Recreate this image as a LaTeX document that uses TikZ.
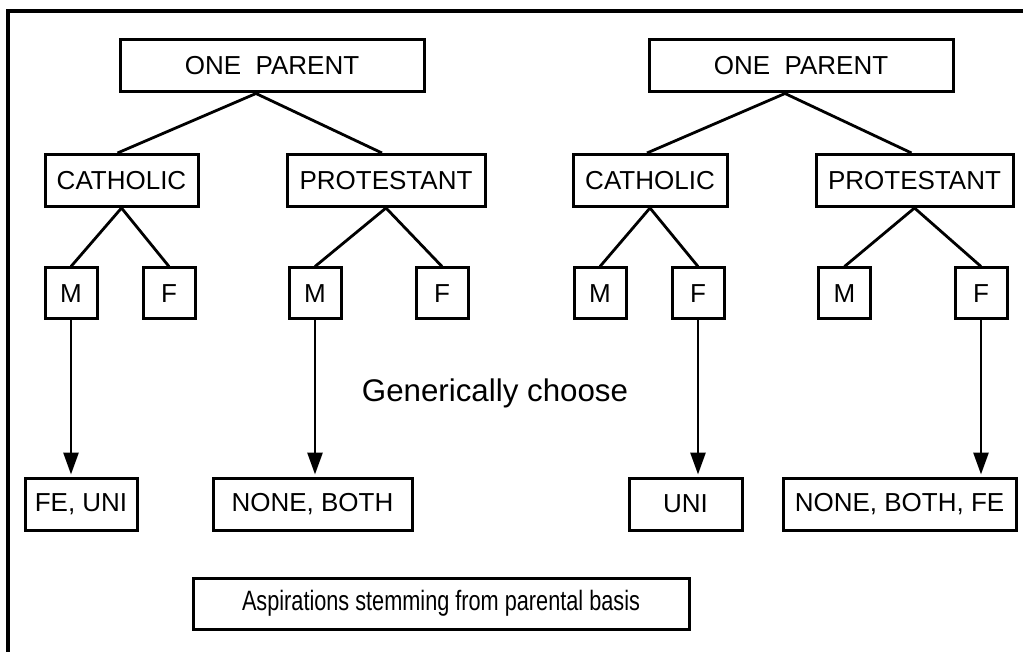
\documentclass[tikz,border=0pt]{standalone}
\usepackage{fontspec}
\setmainfont{Liberation Sans}
\usepackage{tikz}
\usetikzlibrary{calc}
\usetikzlibrary{arrows.meta}
\usetikzlibrary{positioning}

\tikzset{
  box/.style={rectangle, draw=black, line width=3pt, inner sep=0pt,
    minimum height=52pt, font=\fontsize{26}{30}\selectfont},
  small/.style={box, minimum width=52pt, minimum height=51pt},
  link/.style={draw=black, line width=2.8pt},
  pick/.style={link, -{Triangle[length=22pt,width=15pt]}, shorten >=2pt},
}

\begin{document}
\begin{tikzpicture}[x=1pt, y=-1pt]
\clip (0,0) rectangle (1023,652);
\draw [line width=3.2pt] (8,700) -- (8,11) -- (1100,11);

\node [box, minimum width=304pt] (P1) at (272, 66) {ONE~~PARENT};
\node [box, minimum width=304pt] (P2) at (801, 66) {ONE~~PARENT};

\node [box, minimum width=153pt] (C1) at (121.5, 180.5) {CATHOLIC};
\node [box, minimum width=198pt] (T1) at (386, 180.5) {PROTESTANT};
\node [box, minimum width=154pt] (C2) at (650, 180.5) {CATHOLIC};
\node [box, minimum width=197pt] (T2) at (914.5, 180.5) {PROTESTANT};

\node [small] (M1) at (71, 293.5) {M};
\node [small] (F1) at (169, 293.5) {F};
\node [small] (M2) at (315, 293.5) {M};
\node [small] (F2) at (442, 293.5) {F};
\node [small] (M3) at (600, 293.5) {M};
\node [small] (F3) at (698, 293.5) {F};
\node [small] (M4) at (844.5, 293.5) {M};
\node [small] (F4) at (981, 293.5) {F};

\node [box, minimum width=112pt] (R1) at (81, 504) {FE, UNI};
\node [box, minimum width=199pt] (R2) at (312.5, 504) {NONE, BOTH};
\node [box, minimum width=113pt] (R3) at (685.5, 504) {UNI};
\node [box, minimum width=233pt] (R4) at (899.5, 504) {NONE, BOTH, FE};

\node [font=\fontsize{31.3}{36}\selectfont] (G) at (495, 393) {Generically choose};
\node [box, minimum width=496pt, minimum height=51pt, font=\fontsize{28}{32}\selectfont]
  (A) at (441, 603.5) {\scalebox{0.775}[1]{Aspirations stemming from parental basis}};

\draw [link] ([xshift=-4pt]C1.north) -- ([xshift=-16pt]P1.south) -- ([xshift=-4pt]T1.north);
\draw [link] ([xshift=-3pt]C2.north) -- ([xshift=-16pt]P2.south) -- ([xshift=-3pt]T2.north);
\draw [link] (M1.north) -- (C1.south) -- (F1.north);
\draw [link] (M2.north) -- (T1.south) -- (F2.north);
\draw [link] (M3.north) -- (C2.south) -- (F3.north);
\draw [link] (M4.north) -- (T2.south) -- (F4.north);

\draw [pick] (M1.south) -- (M1.south |- R1.north);
\draw [pick] (M2.south) -- (M2.south |- R2.north);
\draw [pick] (F3.south) -- (F3.south |- R3.north);
\draw [pick] (F4.south) -- (F4.south |- R4.north);
\end{tikzpicture}
\end{document}
